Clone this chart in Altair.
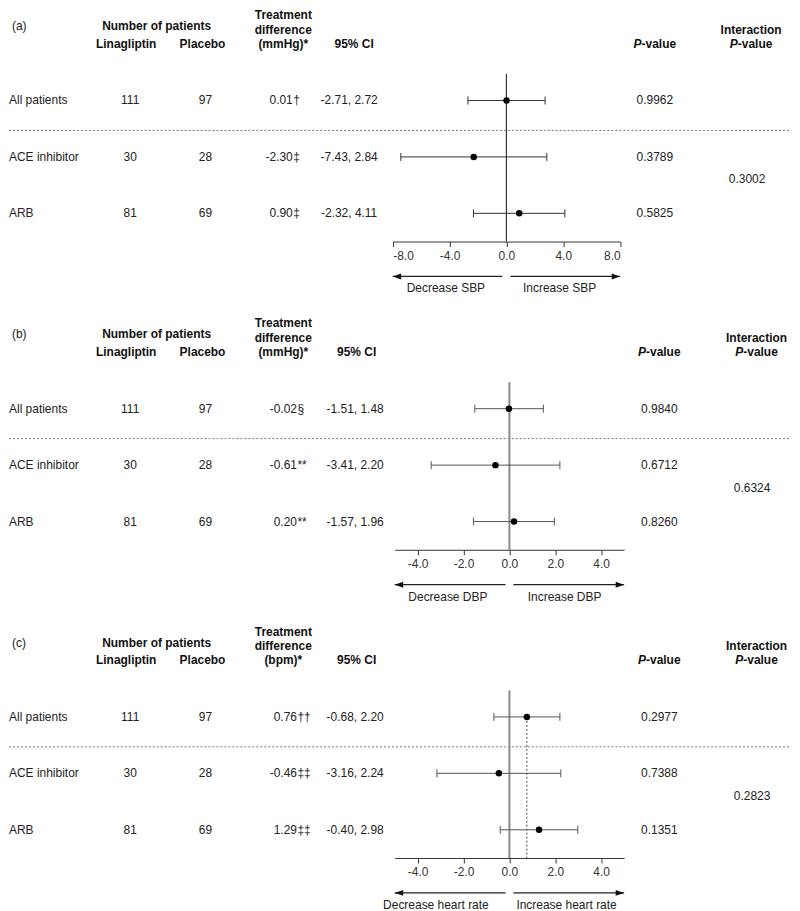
import altair as alt
import pandas as pd

# ---------------- data ----------------
subgroups = ["All patients", "ACE inhibitor", "ARB"]
linagliptin_n = [111, 30, 81]
placebo_n = [97, 28, 69]

sbp_est = [0.01, -2.30, 0.90]
sbp_sym = ["†", "‡", "‡"]
sbp_lo = [-2.71, -7.43, -2.32]
sbp_hi = [2.72, 2.84, 4.11]
sbp_p = ["0.9962", "0.3789", "0.5825"]
sbp_interaction = "0.3002"

dbp_est = [-0.02, -0.61, 0.20]
dbp_sym = ["§", "**", "**"]
dbp_lo = [-1.51, -3.41, -1.57]
dbp_hi = [1.48, 2.20, 1.96]
dbp_p = ["0.9840", "0.6712", "0.8260"]
dbp_interaction = "0.6324"

hr_est = [0.76, -0.46, 1.29]
hr_sym = ["††", "‡‡", "‡‡"]
hr_lo = [-0.68, -3.16, -0.40]
hr_hi = [2.20, 2.24, 2.98]
hr_p = ["0.2977", "0.7388", "0.1351"]
hr_interaction = "0.2823"

panel_labels = ["(a)", "(b)", "(c)"]
units = ["(mmHg)*", "(mmHg)*", "(bpm)*"]
arrow_labels = [("Decrease SBP", "Increase SBP"),
                ("Decrease DBP", "Increase DBP"),
                ("Decrease heart rate", "Increase heart rate")]
x_domains = [[-8, 8], [-5, 5], [-5, 5]]
x_ticks = [[-8, -4, 0, 4, 8], [-4, -2, 0, 2, 4], [-4, -2, 0, 2, 4]]

series = [
    (sbp_est, sbp_sym, sbp_lo, sbp_hi, sbp_p, sbp_interaction),
    (dbp_est, dbp_sym, dbp_lo, dbp_hi, dbp_p, dbp_interaction),
    (hr_est, hr_sym, hr_lo, hr_hi, hr_p, hr_interaction),
]

# ---------------- layout / style ----------------
FONT = "Liberation Sans, Arial, Helvetica, sans-serif"
W = 784
H = 233
R0 = 35
TXT = "#222222"
HEAD = "#111111"

layouts = [
    dict(xr=[384.7, 612.7], num_x=284.5, ci_x=341, ci_head=346, p_x=647.5,
         int_x=744, intp_x=740, arr_txt=(438, 552), gap=0.28,
         zero_col="#333333", zero_w=1.2, bar_col="#333333", ref_line=False),
    dict(xr=[386.7, 616.7], num_x=288.7, ci_x=347, ci_head=348.5, p_x=652,
         int_x=749.5, intp_x=745, arr_txt=(440, 557), gap=0.17,
         zero_col="#8a8a8a", zero_w=2, bar_col="#555555", ref_line=False),
    dict(xr=[386.7, 616.7], num_x=288.7, ci_x=347, ci_head=348.5, p_x=652,
         int_x=749.5, intp_x=745, arr_txt=(428, 559), gap=0.17,
         zero_col="#8a8a8a", zero_w=2, bar_col="#555555", ref_line=True),
]


def panel(i):
    est, sym, lo, hi, pv, inter = series[i]
    L = layouts[i]
    rows = pd.DataFrame({
        "row": [1, 2, 3],
        "label": subgroups,
        "lina": [str(v) for v in linagliptin_n],
        "pla": [str(v) for v in placebo_n],
        "est": est,
        "est_txt": [f"{v:.2f}" for v in est],
        "sym": sym,
        "lo": lo,
        "hi": hi,
        "ci": [f"{a:.2f}, {b:.2f}" for a, b in zip(lo, hi)],
        "p": pv,
    })
    yscale = alt.Scale(domain=[0, 3.5], range=[R0, H], nice=False, zero=False)
    xscale = alt.Scale(domain=x_domains[i], range=L["xr"], nice=False, zero=False)
    xaxis = alt.Axis(
        values=x_ticks[i], title=None, grid=False,
        labelExpr="datum.value < 0 ? '-' + format(-datum.value, '.1f') : format(datum.value, '.1f')",
        domainColor="#333333", tickColor="#333333", domainWidth=1, tickWidth=1,
        tickSize=5, labelPadding=4, labelFontSize=12, labelFont=FONT,
        labelColor="#333333",
    )

    def Y(f="row"):
        return alt.Y(f"{f}:Q", scale=yscale, axis=None, title=None)

    def X(f):
        return alt.X(f"{f}:Q", scale=xscale, axis=xaxis, title=None)

    def text(df, field, x, align="center", bold=False, italic=False, dy=0,
             color=TXT, y=None):
        enc = dict(x=alt.value(x), text=alt.Text(f"{field}:N"))
        enc["y"] = Y() if y is None else y
        return alt.Chart(df).mark_text(
            align=align, baseline="middle", font=FONT, fontSize=12,
            fontWeight="bold" if bold else "normal",
            fontStyle="italic" if italic else "normal",
            dy=dy, color=color,
        ).encode(**enc)

    def one(s, row=0):
        return pd.DataFrame({"row": [row], "t": [s]})

    layers = []

    # dashed separator between overall and subgroups
    sep = pd.DataFrame({"y": [1.53]})
    layers.append(alt.Chart(sep).mark_rule(color="#777777", strokeDash=[2, 2], strokeWidth=1)
                  .encode(x=alt.value(0), x2=alt.value(W), y=Y("y")))

    # header
    layers.append(text(one(panel_labels[i]), "t", 3, align="left", dy=-18, color=TXT))
    layers.append(text(one("Number of patients"), "t", 148, bold=True, dy=-18, color=HEAD))
    layers.append(text(one("Linagliptin"), "t", 117.5, bold=True, color=HEAD))
    layers.append(text(one("Placebo"), "t", 194, bold=True, color=HEAD))
    layers.append(text(one("Treatment"), "t", 275, bold=True, dy=-29, color=HEAD))
    layers.append(text(one("difference"), "t", 275, bold=True, dy=-14.5, color=HEAD))
    layers.append(text(one(units[i]), "t", 275, bold=True, color=HEAD))
    layers.append(text(one("95% CI"), "t", L["ci_head"], bold=True, color=HEAD))
    # P-value header (italic P)
    cx = L["p_x"] - 13.35
    layers.append(text(one("P"), "t", cx, align="right", bold=True, italic=True, color=HEAD))
    layers.append(text(one("-value"), "t", cx, align="left", bold=True, color=HEAD))
    layers.append(text(one("Interaction"), "t", L["int_x"], bold=True, dy=-14.5, color=HEAD))
    cx2 = L["int_x"] - 13.35
    layers.append(text(one("P"), "t", cx2, align="right", bold=True, italic=True, color=HEAD))
    layers.append(text(one("-value"), "t", cx2, align="left", bold=True, color=HEAD))

    # table rows
    layers.append(text(rows, "label", 0, align="left"))
    layers.append(text(rows, "lina", 121.5))
    layers.append(text(rows, "pla", 197))
    layers.append(text(rows, "est_txt", L["num_x"], align="right"))
    layers.append(text(rows, "sym", L["num_x"] + 0.5, align="left"))
    layers.append(text(rows, "ci", L["ci_x"]))
    layers.append(text(rows, "p", L["p_x"]))
    layers.append(text(one(inter, 2.4), "t", L["intp_x"]))

    # zero line
    zero = pd.DataFrame({"x": [0], "y1": [0.53], "y2": [3.5]})
    layers.append(alt.Chart(zero).mark_rule(color=L["zero_col"], strokeWidth=L["zero_w"])
                  .encode(x=X("x"), y=Y("y1"), y2="y2:Q"))

    # overall-estimate dotted reference (panel c)
    if L["ref_line"]:
        ref = pd.DataFrame({"x": [est[0]], "y1": [1], "y2": [3.5]})
        layers.append(alt.Chart(ref).mark_rule(color="#444444", strokeDash=[2, 2], strokeWidth=1)
                      .encode(x=X("x"), y=Y("y1"), y2="y2:Q"))

    # CI bars and caps
    layers.append(alt.Chart(rows).mark_rule(color=L["bar_col"], strokeWidth=1)
                  .encode(x=X("lo"), x2="hi:Q", y=Y()))
    for f in ("lo", "hi"):
        layers.append(alt.Chart(rows).mark_point(shape="M0,-1L0,1", size=64, filled=False,
                                                 strokeWidth=1, color=L["bar_col"], opacity=1)
                      .encode(x=X(f), y=Y()))
    # point estimates
    layers.append(alt.Chart(rows).mark_circle(size=42, color="#000000", opacity=1)
                  .encode(x=X("est"), y=Y()))

    # arrows below axis
    dmin, dmax = x_domains[i]
    g = L["gap"]
    arr = pd.DataFrame({"a": [dmin, g], "b": [-g, dmax]})
    ya = alt.value(H + 35)
    layers.append(alt.Chart(arr).mark_rule(color="#222222", strokeWidth=1.2)
                  .encode(x=X("a"), x2="b:Q", y=ya))
    layers.append(alt.Chart(pd.DataFrame({"a": [dmin]}))
                  .mark_point(shape="M0,0L2,-0.7L2,0.7Z", size=72, filled=True,
                              color="#111111", opacity=1, strokeWidth=0)
                  .encode(x=X("a"), y=ya))
    layers.append(alt.Chart(pd.DataFrame({"a": [dmax]}))
                  .mark_point(shape="M0,0L-2,-0.7L-2,0.7Z", size=72, filled=True,
                              color="#111111", opacity=1, strokeWidth=0)
                  .encode(x=X("a"), y=ya))
    dec, inc = arrow_labels[i]
    layers.append(text(one(dec), "t", L["arr_txt"][0], y=alt.value(H + 47)))
    layers.append(text(one(inc), "t", L["arr_txt"][1], y=alt.value(H + 47)))

    return alt.layer(*layers).properties(width=W, height=H)


chart = alt.vconcat(panel(0), panel(1), panel(2), spacing=76, bounds="flush",
                    padding=0).resolve_scale(x="independent", y="independent") \
    .configure_view(stroke=None)

chart.save("out.html", embed_options={"renderer": "svg", "actions": False})
